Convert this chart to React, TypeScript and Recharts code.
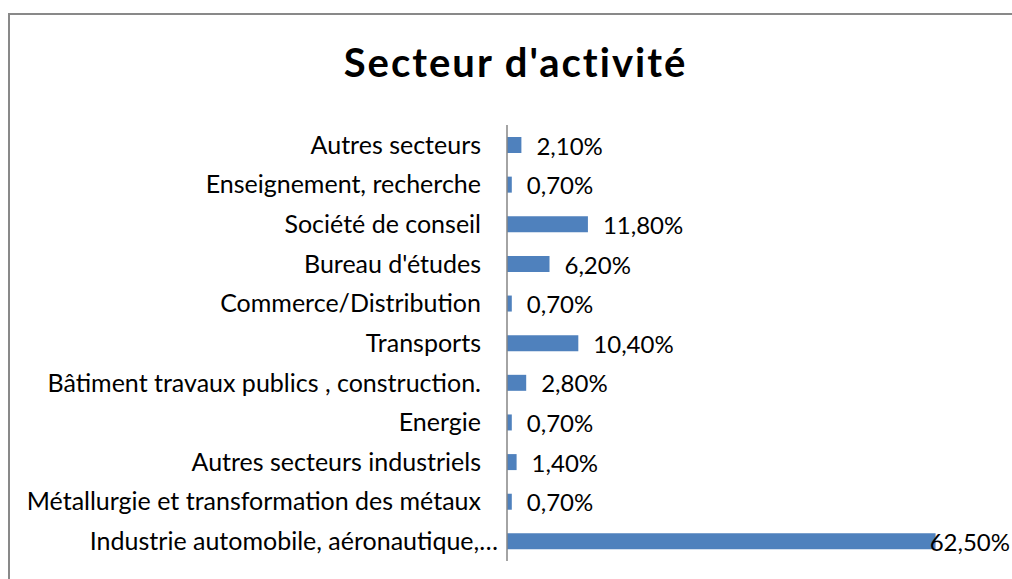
import React from 'react';
import { BarChart, Bar, XAxis, YAxis, LabelList } from 'recharts';

const categories: string[] = [
  'Autres secteurs',
  'Enseignement, recherche',
  'Société de conseil',
  "Bureau d'études",
  'Commerce/Distribution',
  'Transports',
  'Bâtiment travaux publics , construction.',
  'Energie',
  'Autres secteurs industriels',
  'Métallurgie et transformation des métaux',
  'Industrie automobile, aéronautique,…',
];
const shares: number[] = [2.1, 0.7, 11.8, 6.2, 0.7, 10.4, 2.8, 0.7, 1.4, 0.7, 62.5];
const title = "Secteur d'activité";

const data = categories.map((name, i) => ({ name, value: shares[i] }));

const FONT = 'Lato, "Open Sans", sans-serif';
const CHART_W = 1002;
const CHART_H = 564;

const renderLabel = (props: any) => {
  const { x, y, width, height, value } = props;
  const text = Number(value).toFixed(2).replace('.', ',') + '%';
  let tx = Number(x) + Number(width) + 15;
  let anchor: 'start' | 'end' = 'start';
  if (tx + 80 > CHART_W) {
    tx = CHART_W - 2;
    anchor = 'end';
  }
  return (
    <text
      x={tx}
      y={Number(y) + Number(height) / 2}
      dy="0.4em"
      textAnchor={anchor}
      fontFamily={FONT}
      fontSize={24}
      fill="#000"
    >
      {text}
    </text>
  );
};

const renderTick = (props: any) => {
  const { x, y, payload } = props;
  const label = String(payload.value);
  const shift = label.endsWith('…') ? 17 : 0;
  return (
    <text
      x={Number(x) + shift}
      y={y}
      dy="0.355em"
      textAnchor="end"
      fontFamily={FONT}
      fontSize={25}
      fill="#000"
    >
      {label}
    </text>
  );
};

export default function App() {
  return (
    <div
      style={{
        position: 'fixed',
        left: 0,
        top: 0,
        width: 1012,
        height: 579,
        overflow: 'hidden',
        background: '#fff',
      }}
    >
      <style>{`html,body{margin:0;padding:0;overflow:hidden;}`}</style>
      <div
        style={{
          position: 'absolute',
          left: 8,
          top: 13,
          width: 1020,
          height: 580,
          boxSizing: 'border-box',
          borderTop: '2px solid #898989',
          borderLeft: '2px solid #898989',
        }}
      />
      <div
        style={{
          position: 'absolute',
          left: 10,
          width: 1011,
          top: 42,
          textAlign: 'center',
          fontFamily: FONT,
          fontWeight: 700,
          fontSize: 40,
          letterSpacing: 2,
          lineHeight: 1,
          color: '#000',
          whiteSpace: 'nowrap',
        }}
      >
        {title}
      </div>
      <div style={{ position: 'absolute', left: 10, top: 15 }}>
        <BarChart
          width={CHART_W}
          height={CHART_H}
          data={data}
          layout="vertical"
          margin={{ top: 110, right: 25, bottom: 18, left: 0 }}
          barSize={16}
        >
          <XAxis type="number" domain={[0, 70]} hide />
          <YAxis
            type="category"
            dataKey="name"
            width={497}
            tickLine={false}
            tickSize={0}
            tickMargin={26}
            axisLine={{ stroke: '#868686', strokeWidth: 1.5 }}
            tick={renderTick}
            interval={0}
          />
          <Bar dataKey="value" fill="#4F81BD" isAnimationActive={false}>
            <LabelList dataKey="value" content={renderLabel} />
          </Bar>
        </BarChart>
      </div>
    </div>
  );
}
